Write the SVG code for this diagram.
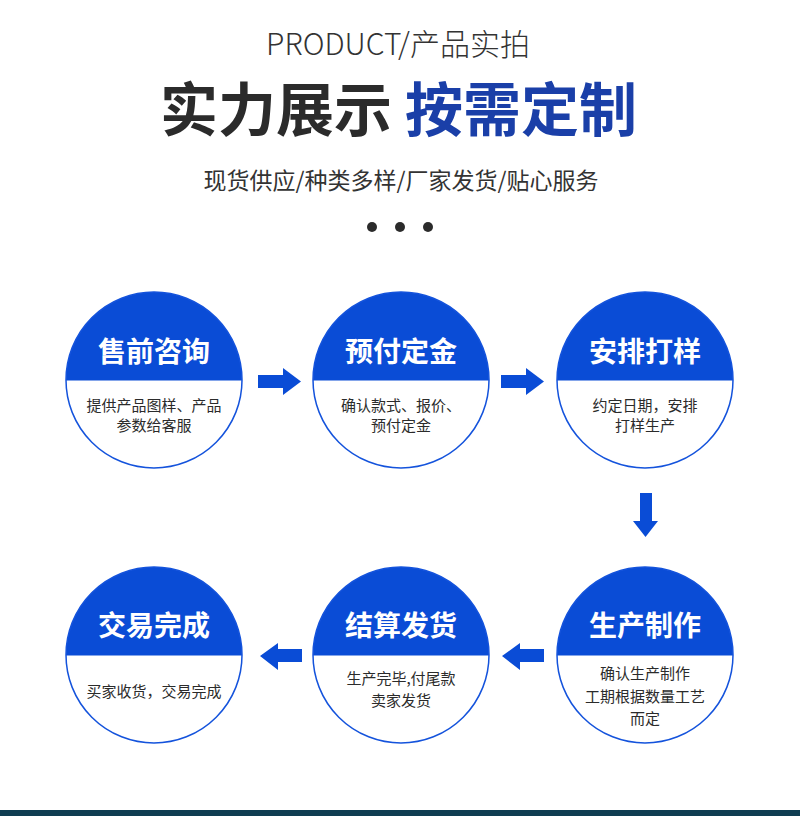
<svg xmlns="http://www.w3.org/2000/svg" width="800" height="816" viewBox="0 0 800 816">
<style>
.cjk{font-family:"Noto Sans CJK SC","Noto Sans",sans-serif}
.t{font-size:28px;font-weight:700;fill:#ffffff;text-anchor:middle}
.d{font-size:15px;fill:#2b2b2b;text-anchor:middle}
.top{fill:#0a4cd6}
.ring{fill:none;stroke:#1453dc;stroke-width:1.5}
.arr{fill:#0a4cd6}
</style>
<defs>
<clipPath id="c1"><rect x="0" y="0" width="800" height="380.5"/></clipPath>
<clipPath id="c2"><rect x="0" y="0" width="800" height="655.5"/></clipPath>
</defs>
<rect width="800" height="816" fill="#ffffff"/>
<g id="header" class="cjk">
<text x="398" y="55" font-size="30" font-weight="300" fill="#333333" text-anchor="middle">PRODUCT/产品实拍</text>
<text x="160" y="131" font-size="58" font-weight="700" fill="#2b2b2b">实力展示</text>
<text x="405" y="131" font-size="58" font-weight="700" fill="#1a3fa8">按需定制</text>
<text x="401" y="189" font-size="23" fill="#333333" text-anchor="middle">现货供应/种类多样/厂家发货/贴心服务</text>
<circle cx="372" cy="227" r="5" fill="#2b2b2b"/>
<circle cx="400" cy="227" r="5" fill="#2b2b2b"/>
<circle cx="428" cy="227" r="5" fill="#2b2b2b"/>
</g>
<g id="n1" class="cjk">
<circle cx="154" cy="380" r="88" class="top" clip-path="url(#c1)"/>
<circle cx="154" cy="380" r="88" class="ring"/>
<text x="154" y="362" class="t">售前咨询</text>
<text x="154" y="411" class="d">提供产品图样、产品</text>
<text x="154" y="431" class="d">参数给客服</text>
</g>
<g id="n2" class="cjk">
<circle cx="401" cy="380" r="88" class="top" clip-path="url(#c1)"/>
<circle cx="401" cy="380" r="88" class="ring"/>
<text x="401" y="362" class="t">预付定金</text>
<text x="401" y="411" class="d">确认款式、报价、</text>
<text x="401" y="431" class="d">预付定金</text>
</g>
<g id="n3" class="cjk">
<circle cx="645" cy="380" r="88" class="top" clip-path="url(#c1)"/>
<circle cx="645" cy="380" r="88" class="ring"/>
<text x="645" y="362" class="t">安排打样</text>
<text x="645" y="411" class="d">约定日期，安排</text>
<text x="645" y="431" class="d">打样生产</text>
</g>
<g id="n4" class="cjk">
<circle cx="154" cy="655" r="88" class="top" clip-path="url(#c2)"/>
<circle cx="154" cy="655" r="88" class="ring"/>
<text x="154" y="636" class="t">交易完成</text>
<text x="154" y="697" class="d">买家收货，交易完成</text>
</g>
<g id="n5" class="cjk">
<circle cx="401" cy="655" r="88" class="top" clip-path="url(#c2)"/>
<circle cx="401" cy="655" r="88" class="ring"/>
<text x="401" y="636" class="t">结算发货</text>
<text x="401" y="684" class="d">生产完毕,付尾款</text>
<text x="401" y="706" class="d">卖家发货</text>
</g>
<g id="n6" class="cjk">
<circle cx="645" cy="655" r="88" class="top" clip-path="url(#c2)"/>
<circle cx="645" cy="655" r="88" class="ring"/>
<text x="645" y="636" class="t">生产制作</text>
<text x="645" y="679" class="d">确认生产制作</text>
<text x="645" y="702" class="d">工期根据数量工艺</text>
<text x="645" y="724" class="d">而定</text>
</g>
<g id="connectors">
<polygon class="arr" points="258,375 283,375 283,368 301,381.5 283,395 283,388 258,388"/>
<polygon class="arr" points="501,375 526,375 526,368 544,381.5 526,395 526,388 501,388"/>
<polygon class="arr" points="640,493 652,493 652,521 658,521 645.5,537 633,521 640,521"/>
<polygon class="arr" points="302,649 278,649 278,643 260,656 278,670 278,662 302,662"/>
<polygon class="arr" points="544,649 520,649 520,643 502,656 520,670 520,662 544,662"/>
</g>
<rect x="0" y="810" width="800" height="6" fill="#0f3d52"/>
</svg>
